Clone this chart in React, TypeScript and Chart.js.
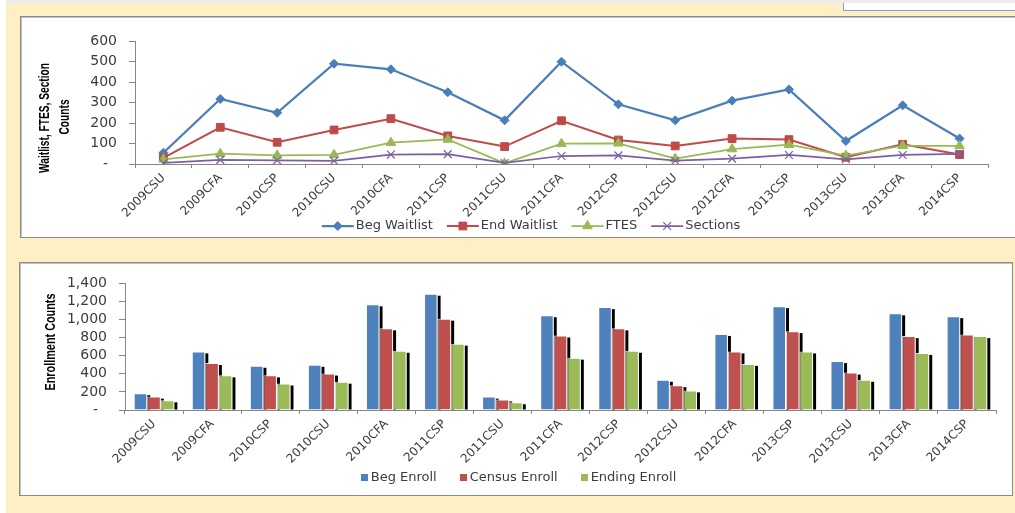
import React, { useEffect, useRef } from 'react';
import { Chart, registerables } from 'chart.js';
import { drawPoint } from 'chart.js/helpers';

Chart.register(...registerables);

const categories = ['2009CSU', '2009CFA', '2010CSP', '2010CSU', '2010CFA', '2011CSP', '2011CSU', '2011CFA', '2012CSP', '2012CSU', '2012CFA', '2013CSP', '2013CSU', '2013CFA', '2014CSP'];

const begWaitlist = [55, 317, 250, 489, 462, 350, 213, 499, 291, 213, 309, 364, 112, 286, 124];
const endWaitlist = [30, 179, 106, 166, 221, 137, 85, 211, 117, 88, 124, 119, 33, 96, 46];
const ftes = [23, 50, 42, 45, 104, 120, 3, 99, 101, 26, 73, 94, 41, 89, 88];
const sections = [5, 20, 18, 15, 46, 48, 5, 39, 42, 16, 26, 44, 23, 44, 49];
const waitlistTicks = [0, 100, 200, 300, 400, 500, 600];

const begEnroll = [186, 648, 489, 500, 1169, 1286, 148, 1048, 1138, 334, 841, 1148, 541, 1069, 1038];
const censusEnroll = [148, 520, 383, 403, 903, 1010, 117, 824, 903, 275, 648, 872, 414, 817, 834];
const endingEnroll = [107, 383, 293, 313, 655, 734, 86, 579, 655, 217, 510, 648, 334, 631, 817];
const enrollTicks = [0, 200, 400, 600, 800, 1000, 1200, 1400];

const AXIS = '#868686';
const TEXT = '#3b3b46';
const FONT = "'DejaVu Sans', 'Liberation Sans', sans-serif";
const TITLE_FONT = "'Liberation Sans', 'DejaVu Sans', sans-serif";

const fmt = (v: number) => (v === 0 ? '-  ' : v.toLocaleString('en-US'));

// Rotated y-axis title lines; the first line is fitted to a target length, other lines share its scale.
function titlePlugin(lines: { text: string; x: number; y: number }[], font: string, targetLen: number) {
  return {
    id: 'yTitle',
    afterDraw(chart: any) {
      const ctx = chart.ctx;
      ctx.save();
      ctx.fillStyle = '#000';
      ctx.font = font;
      ctx.textAlign = 'center';
      ctx.textBaseline = 'middle';
      const k = targetLen / ctx.measureText(lines[0].text).width;
      for (const l of lines) {
        ctx.save();
        ctx.translate(l.x, l.y);
        ctx.rotate(-Math.PI / 2);
        ctx.scale(k, 1);
        ctx.fillText(l.text, 0, 0);
        ctx.restore();
      }
      ctx.restore();
    },
  };
}

function lineLegendPlugin(cx: number, cy: number) {
  return {
    id: 'lineLegend',
    afterDraw(chart: any) {
      const ctx = chart.ctx;
      const ds = chart.data.datasets;
      ctx.save();
      ctx.font = `13px ${FONT}`;
      const lineW = 32, gap = 2, spacing = 14;
      const widths = ds.map((d: any) => ctx.measureText(d.label).width);
      const total = widths.reduce((a: number, w: number) => a + lineW + gap + w, 0) + spacing * (ds.length - 1);
      let x = cx - total / 2;
      ds.forEach((d: any, i: number) => {
        ctx.strokeStyle = d.borderColor;
        ctx.lineWidth = d.borderWidth;
        ctx.beginPath();
        ctx.moveTo(x, cy);
        ctx.lineTo(x + lineW, cy);
        ctx.stroke();
        ctx.fillStyle = d.pointBackgroundColor;
        ctx.strokeStyle = d.borderColor;
        ctx.lineWidth = d.pointBorderWidth;
        drawPoint(ctx, { pointStyle: d.pointStyle, radius: d.pointRadius, rotation: 0, borderWidth: d.pointBorderWidth }, x + lineW / 2, cy);
        ctx.fillStyle = TEXT;
        ctx.textAlign = 'left';
        ctx.textBaseline = 'middle';
        ctx.fillText(d.label, x + lineW + gap, cy);
        x += lineW + gap + widths[i] + spacing;
      });
      ctx.restore();
    },
  };
}

function barLegendPlugin(cx: number, cy: number) {
  return {
    id: 'barLegend',
    afterDraw(chart: any) {
      const ctx = chart.ctx;
      const ds = chart.data.datasets;
      ctx.save();
      ctx.font = `13px ${FONT}`;
      const box = 7, gap = 3, spacing = 23;
      const widths = ds.map((d: any) => ctx.measureText(d.label).width);
      const total = widths.reduce((a: number, w: number) => a + box + gap + w, 0) + spacing * (ds.length - 1);
      let x = cx - total / 2;
      ds.forEach((d: any, i: number) => {
        ctx.fillStyle = d.backgroundColor;
        ctx.fillRect(Math.round(x), Math.round(cy - box / 2), box, box);
        ctx.fillStyle = TEXT;
        ctx.textAlign = 'left';
        ctx.textBaseline = 'middle';
        ctx.fillText(d.label, x + box + gap, cy);
        x += box + gap + widths[i] + spacing;
      });
      ctx.restore();
    },
  };
}

// Excel-like hard shadow to the right of each bar, drawn under all bars.
const shadowPlugin = {
  id: 'barShadow',
  beforeDatasetsDraw(chart: any) {
    const ctx = chart.ctx;
    ctx.save();
    ctx.fillStyle = '#000';
    chart.data.datasets.forEach((_: any, i: number) => {
      const meta = chart.getDatasetMeta(i);
      meta.data.forEach((el: any) => {
        const { x, y, base, width } = el.getProps(['x', 'y', 'base', 'width'], true);
        const right = x + width / 2;
        ctx.fillRect(right, y + 2, 3, base - y - 2);
      });
    });
    ctx.restore();
  },
};

const xTicks = { autoSkip: false, minRotation: 45, maxRotation: 45, padding: 3, color: TEXT, font: { family: FONT, size: 12 } };
const yTickFont = { family: FONT, size: 14 };

function LineChart() {
  const ref = useRef<HTMLCanvasElement>(null);
  useEffect(() => {
    const W = 994, H = 219;
    const chart = new Chart(ref.current!, {
      type: 'line',
      data: {
        labels: categories,
        datasets: [
          { label: 'Beg Waitlist', data: begWaitlist, borderColor: '#4A7EBB', backgroundColor: '#4A7EBB', pointBackgroundColor: '#4A7EBB', pointStyle: 'rectRot', pointRadius: 4.5, pointBorderWidth: 1, borderWidth: 2.25, order: 3 } as any,
          { label: 'End Waitlist', data: endWaitlist, borderColor: '#BE4B48', backgroundColor: '#BE4B48', pointBackgroundColor: '#BE4B48', pointStyle: 'rect', pointRadius: 5.5, pointBorderWidth: 1, borderWidth: 2, order: 2 },
          { label: 'FTES', data: ftes, borderColor: '#98B954', backgroundColor: '#98B954', pointBackgroundColor: '#98B954', pointStyle: 'triangle', pointRadius: 5.5, pointBorderWidth: 1, borderWidth: 1.75, order: 1 },
          { label: 'Sections', data: sections, borderColor: '#7D60A0', backgroundColor: '#7D60A0', pointBackgroundColor: '#7D60A0', pointStyle: 'crossRot', pointRadius: 5.5, pointBorderWidth: 1.25, borderWidth: 1.75, order: 0 },
        ],
      },
      options: {
        responsive: false,
        animation: false,
        events: [],
        layout: { padding: { left: 0, right: W - 967, top: 24, bottom: 0 } },
        plugins: { legend: { display: false }, tooltip: { enabled: false } },
        elements: { line: { tension: 0 } },
        scales: {
          x: {
            offset: true,
            grid: { display: true, drawOnChartArea: false, drawTicks: true, tickLength: 4, color: AXIS, offset: true },
            border: { display: true, color: AXIS, width: 1 },
            ticks: xTicks,
            afterFit: (s: any) => { s.height = H - 147; },
          },
          y: {
            min: waitlistTicks[0],
            max: waitlistTicks[waitlistTicks.length - 1],
            ticks: { autoSkip: false, stepSize: waitlistTicks[1] - waitlistTicks[0], padding: 12, color: TEXT, font: yTickFont, callback: (v: any) => fmt(Number(v)) },
            grid: { drawOnChartArea: false, drawTicks: true, tickLength: 6, color: AXIS },
            border: { display: true, color: AXIS, width: 1 },
            afterFit: (s: any) => { s.width = 114; },
          },
        },
      },
      plugins: [
        lineLegendPlugin(510, 209),
        titlePlugin([
          { text: 'Waitlist, FTES, Section', x: 24, y: 101 },
          { text: 'Counts', x: 44, y: 100 },
        ], `bold 14px ${TITLE_FONT}`, 110),
      ],
    });
    return () => chart.destroy();
  }, []);
  return <canvas ref={ref} width={994} height={219} style={{ position: 'absolute', left: 21, top: 17, width: 994, height: 219 }} />;
}

function BarChart() {
  const ref = useRef<HTMLCanvasElement>(null);
  useEffect(() => {
    const W = 991, H = 231;
    const common = { borderColor: 'rgba(255,255,255,0.85)', borderWidth: 1, categoryPercentage: 0.7, barPercentage: 1 };
    const chart = new Chart(ref.current!, {
      type: 'bar',
      data: {
        labels: categories,
        datasets: [
          { label: 'Beg Enroll', data: begEnroll, backgroundColor: '#4F81BD', ...common },
          { label: 'Census Enroll', data: censusEnroll, backgroundColor: '#C0504D', ...common },
          { label: 'Ending Enroll', data: endingEnroll, backgroundColor: '#9BBB59', ...common },
        ],
      },
      options: {
        responsive: false,
        animation: false,
        events: [],
        layout: { padding: { left: 0, right: W - 976, top: 12, bottom: 0 } },
        plugins: { legend: { display: false }, tooltip: { enabled: false } },
        scales: {
          x: {
            grid: { display: true, drawOnChartArea: false, drawTicks: true, tickLength: 4, color: AXIS, offset: true },
            border: { display: true, color: AXIS, width: 1 },
            ticks: xTicks,
            afterFit: (s: any) => { s.height = H - 147; },
          },
          y: {
            min: enrollTicks[0],
            max: enrollTicks[enrollTicks.length - 1],
            ticks: { autoSkip: false, stepSize: enrollTicks[1] - enrollTicks[0], padding: 12, color: TEXT, font: yTickFont, callback: (v: any) => fmt(Number(v)) },
            grid: { drawOnChartArea: false, drawTicks: true, tickLength: 6, color: AXIS },
            border: { display: true, color: AXIS, width: 1 },
            afterFit: (s: any) => { s.width = 105; },
          },
        },
      },
      plugins: [
        shadowPlugin,
        barLegendPlugin(498.5, 214.7),
        titlePlugin([{ text: 'Enrollment Counts', x: 31, y: 79 }], `bold 14px ${TITLE_FONT}`, 97),
      ],
    });
    return () => chart.destroy();
  }, []);
  return <canvas ref={ref} width={991} height={231} style={{ position: 'absolute', left: 20, top: 263, width: 991, height: 231 }} />;
}

export default function App() {
  const abs = (s: React.CSSProperties): React.CSSProperties => ({ position: 'absolute', boxSizing: 'border-box', ...s });
  return (
    <div style={abs({ left: 0, top: 0, width: 1015, height: 513, background: '#ffffff', overflow: 'hidden' })}>
      <div style={abs({ left: 6, top: 0, width: 1009, height: 3, background: '#ececec' })} />
      <div style={abs({ left: 6, top: 3, width: 1009, height: 510, background: '#FFEFC4' })} />
      <div style={abs({ left: 843, top: 3, width: 200, height: 8, background: '#ffffff', borderLeft: '1px solid #7d9fd3', borderBottom: '1px solid #7d9fd3' })} />
      <div style={abs({ left: 20, top: 16, width: 1100, height: 222, background: '#ffffff', border: '1px solid #8a8a8a', boxShadow: 'inset 1px 1px 0 #c4c4c4' })} />
      <div style={abs({ left: 19, top: 262, width: 994, height: 234, background: '#ffffff', border: '1px solid #8a8a8a', boxShadow: 'inset 1px 1px 0 #c4c4c4' })} />
      <LineChart />
      <BarChart />
    </div>
  );
}
